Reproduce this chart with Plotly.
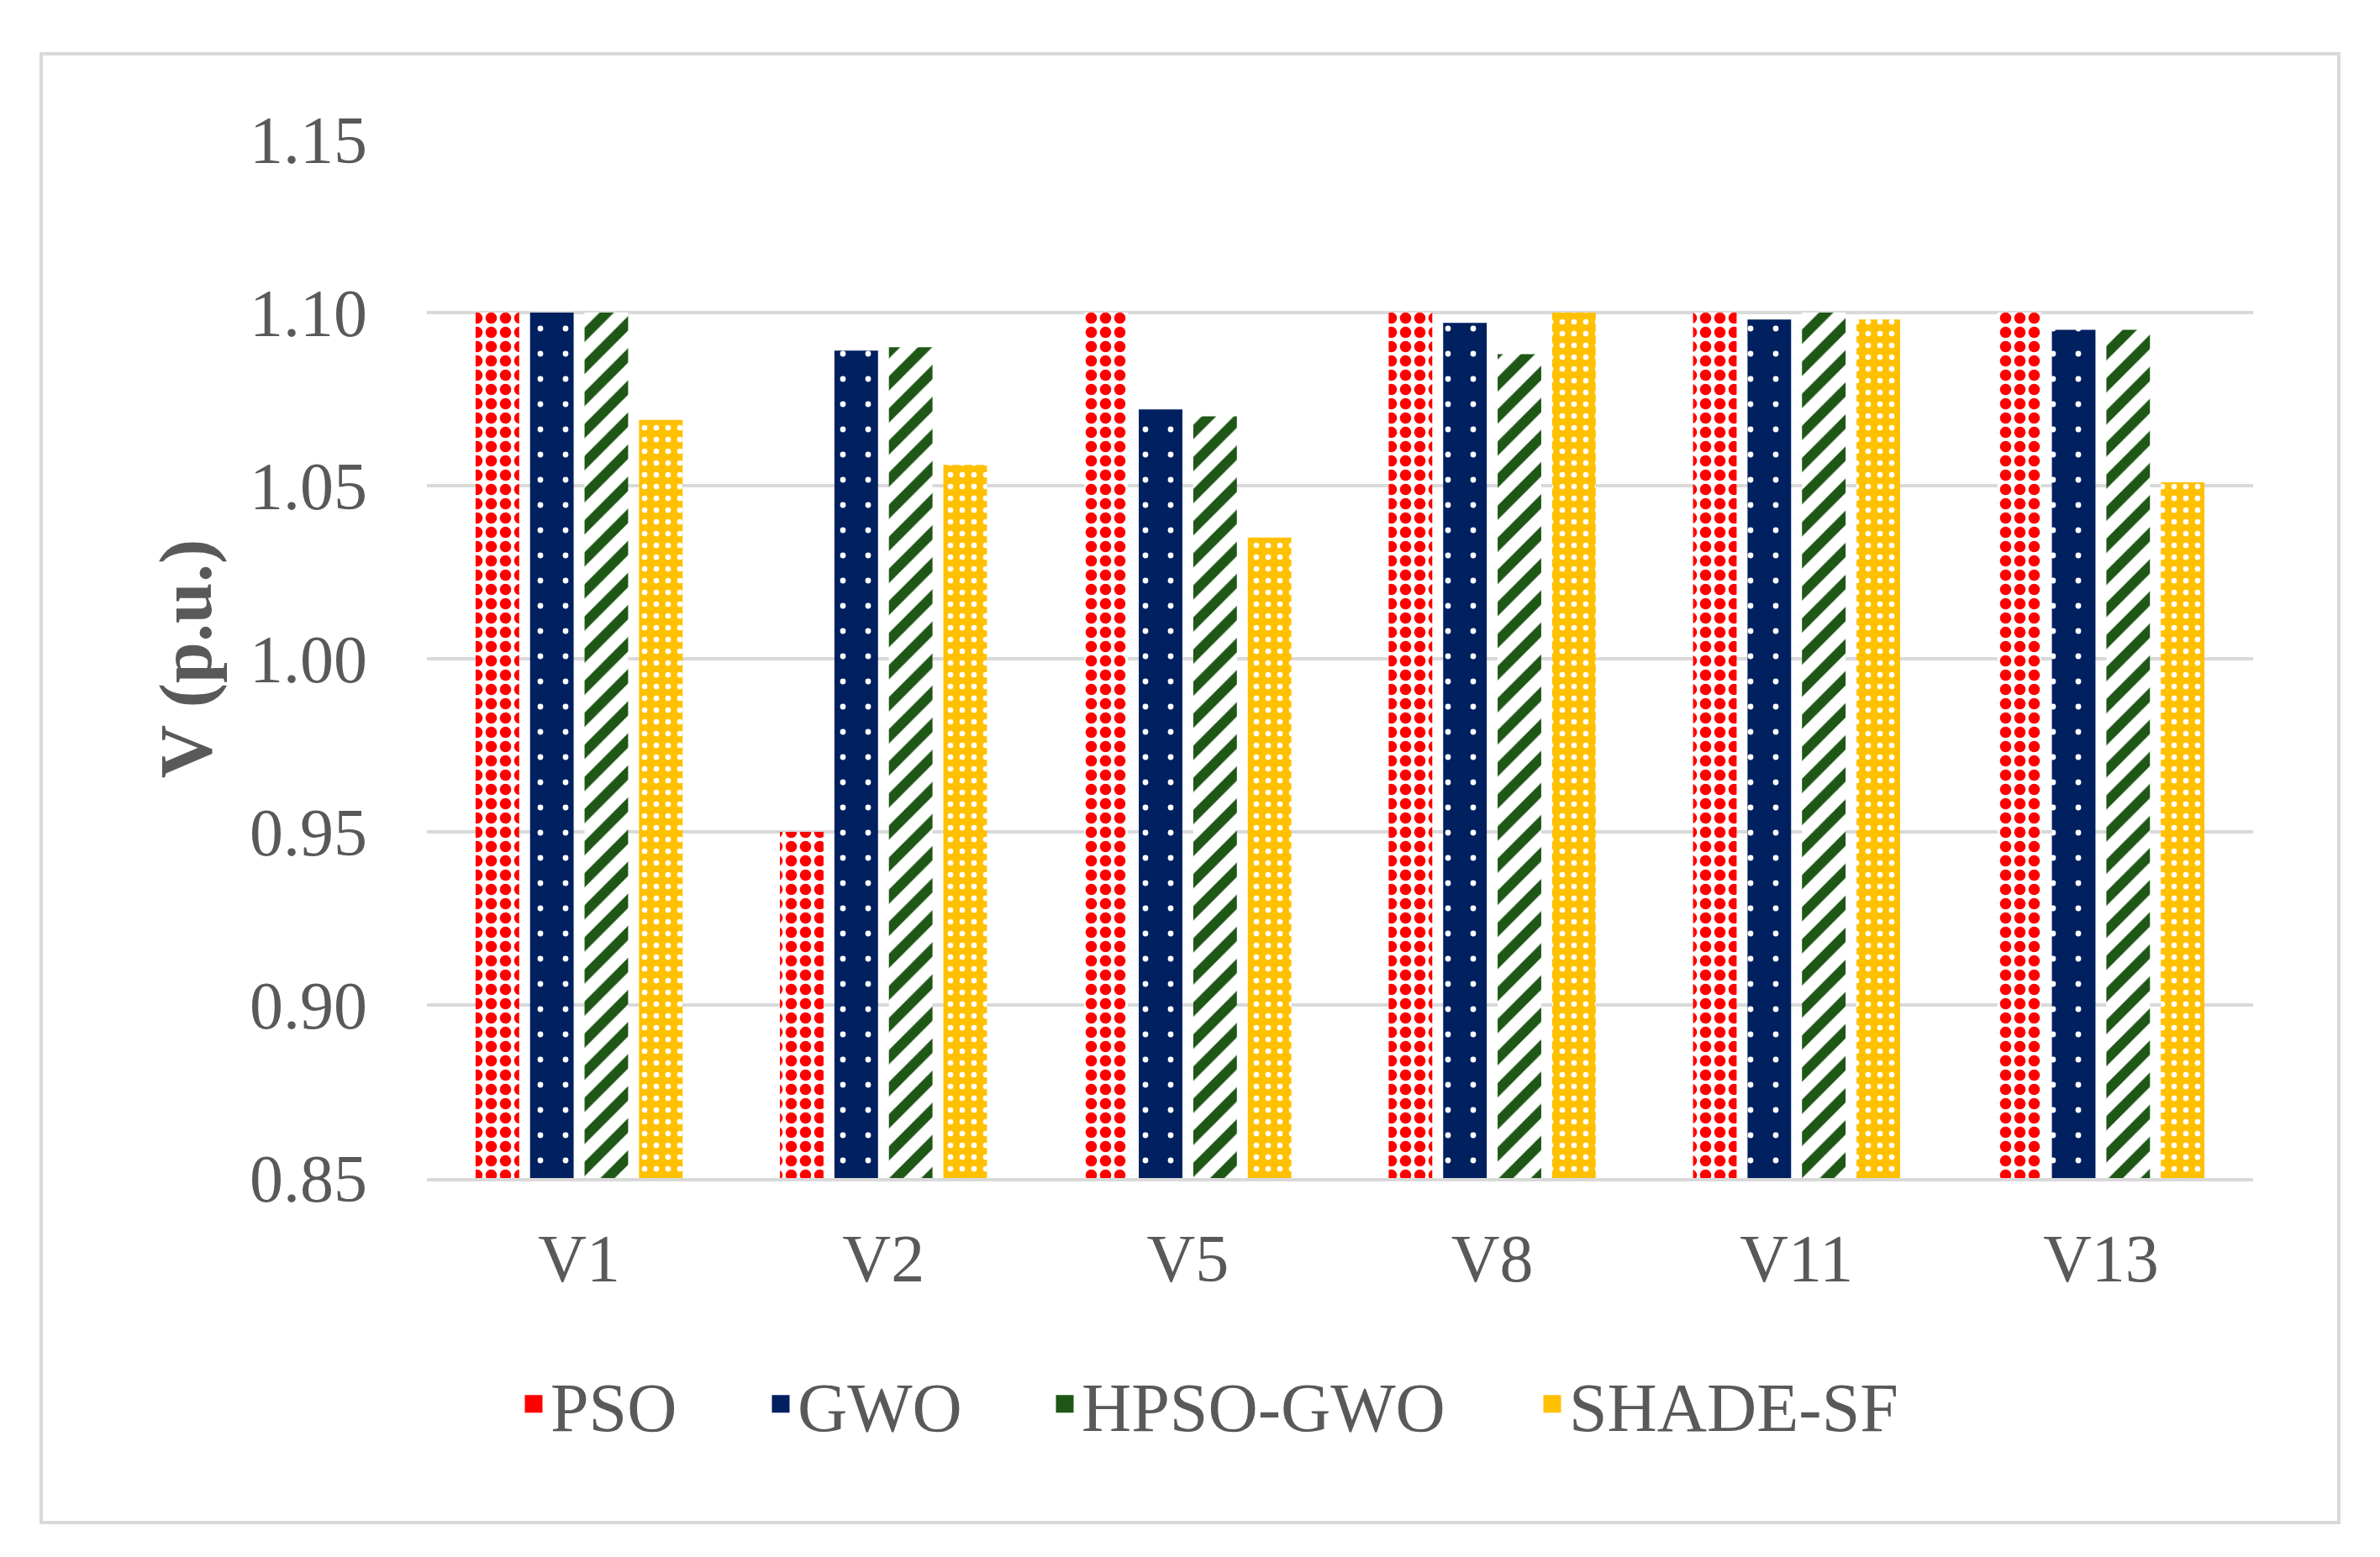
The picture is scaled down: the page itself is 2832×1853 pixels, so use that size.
import plotly.graph_objects as go

categories = ["V1", "V2", "V5", "V8", "V11", "V13"]
series_names = ["PSO", "GWO", "HPSO-GWO", "SHADE-SF"]
pso = [1.100, 0.950, 1.100, 1.100, 1.100, 1.100]
gwo = [1.100, 1.089, 1.072, 1.097, 1.098, 1.095]
hpso_gwo = [1.100, 1.090, 1.070, 1.088, 1.100, 1.095]
shade_sf = [1.069, 1.056, 1.035, 1.100, 1.098, 1.051]
y_ticks = [0.85, 0.90, 0.95, 1.00, 1.05, 1.10, 1.15]
y_tick_labels = ["0.85", "0.90", "0.95", "1.00", "1.05", "1.10", "1.15"]

W, H = 2832, 1853
L, R, T, B = 508, 151, 166, 451
PW, PH = W - L - R, H - T - B

TXT = "#595959"
FONT = "Liberation Serif"

styles = [
    dict(shape=".", fg="#FF0000", bg="#FFFFFF", size=17, solidity=0.5, legend="#FF0000"),
    dict(shape=".", fg="#FFFFFF", bg="#002060", size=30, solidity=0.04, legend="#002060"),
    dict(shape="/", fg="#1E5716", bg="#FFFFFF", size=27, solidity=0.45, legend="#1E5716"),
    dict(shape=".", fg="#FFFFFF", bg="#FFC000", size=14, solidity=0.18, legend="#FFC000"),
]
values = [pso, gwo, hpso_gwo, shade_sf]
legend_ids = ["legend", "legend2", "legend3", "legend4"]
legend_text_left_px = [657, 951, 1289, 1869]

fig = go.Figure()
for name, vals, st in zip(series_names, values, styles):
    fig.add_trace(go.Bar(
        x=categories, y=vals, name=name, showlegend=False, legendgroup=name,
        marker=dict(
            color=st["bg"], line=dict(width=0),
            pattern=dict(shape=st["shape"], fgcolor=st["fg"], bgcolor=st["bg"],
                         size=st["size"], solidity=st["solidity"], fillmode="replace"),
        ),
    ))
for name, st, lid in zip(series_names, styles, legend_ids):
    fig.add_trace(go.Scatter(
        x=[None], y=[None], mode="markers", name=name, legendgroup=name, legend=lid,
        marker=dict(symbol="square", size=16, color=st["legend"],
                    line=dict(color=st["legend"], width=5)),
    ))

def px_x(p):
    return (p - L) / PW

def px_y(p):
    return (H - B - p) / PH

fig.add_shape(type="rect", xref="paper", yref="paper",
              x0=px_x(49), x1=px_x(2783), y0=px_y(1812), y1=px_y(64),
              line=dict(color="#D9D9D9", width=4), fillcolor="rgba(0,0,0,0)", layer="below")

legend_layouts = {}
for lid, tx in zip(legend_ids, legend_text_left_px):
    legend_layouts[lid] = dict(
        orientation="h", x=px_x(tx - 42), xanchor="left", y=px_y(1671), yanchor="middle",
        font=dict(family=FONT, size=82, color=TXT), itemwidth=30,
        bgcolor="rgba(0,0,0,0)",
    )

fig.update_layout(
    width=W, height=H,
    margin=dict(l=L, r=R, t=T, b=B, pad=0),
    paper_bgcolor="white", plot_bgcolor="white",
    barmode="group", bargap=0.284, bargroupgap=0.2,
    font=dict(family=FONT, color=TXT, size=80),
    xaxis=dict(
        type="category", showgrid=False, showline=True, linecolor="#D9D9D9", linewidth=4,
        ticks="outside", ticklen=23, tickcolor="rgba(0,0,0,0)",
        tickfont=dict(family=FONT, size=80, color=TXT), zeroline=False,
    ),
    yaxis=dict(
        range=[0.85, 1.15], tickvals=y_ticks, ticktext=y_tick_labels,
        showgrid=True, gridcolor="#D9D9D9", gridwidth=4, zeroline=False, showline=False,
        ticks="outside", ticklen=54, tickcolor="rgba(0,0,0,0)",
        tickfont=dict(family=FONT, size=80, color=TXT),
        title=dict(text="<b>V (p.u.)</b>", font=dict(family=FONT, size=88, color=TXT), standoff=16),
    ),
    **legend_layouts,
)

fig.write_html("out.html", config={"displayModeBar": False},
               post_script="document.body.style.margin='0';document.body.style.overflow='hidden';")
